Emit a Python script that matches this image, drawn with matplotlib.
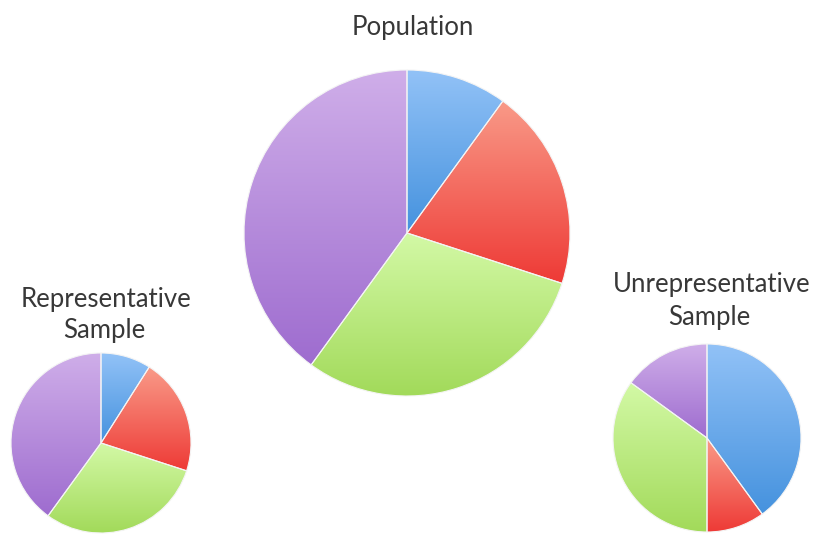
"""Population vs representative / unrepresentative sample pies."""

import matplotlib

matplotlib.use("Agg")
import matplotlib.pyplot as plt  # noqa: E402
import numpy as np
from matplotlib.colors import LinearSegmentedColormap

W, H = 817, 534

groups = ["Blue", "Red", "Green", "Purple"]
population = [10, 20, 30, 40]
representative = [9, 21, 30, 40]
unrepresentative = [40, 10, 35, 15]

# light (top) -> dark (bottom) for each slice
GRAD = [
    ("#92C2F7", "#4592DE"),
    ("#F99A88", "#EE3A36"),
    ("#D3F9A6", "#A2DA5A"),
    ("#CFAEE9", "#9E6CCF"),
]
INK = "#383838"


def _gradient_pie(ax, values, center, radius):
    wedges, _ = ax.pie(
        values,
        center=center,
        radius=radius,
        startangle=90,
        counterclock=False,
        wedgeprops=dict(linewidth=0.8, edgecolor="#F4F4F4"),
        frame=True,
    )
    ramp = np.linspace(0, 1, 256).reshape(-1, 1)
    for w, (top, bottom) in zip(wedges, GRAD):
        ext = w.get_path().get_extents(w.get_patch_transform())
        cmap = LinearSegmentedColormap.from_list("g", [top, bottom])
        w.set_facecolor("none")
        im = ax.imshow(
            ramp,
            cmap=cmap,
            extent=(ext.x0, ext.x1, ext.y0, ext.y1),
            origin="upper",
            aspect="auto",
            interpolation="bicubic",
            zorder=w.get_zorder() - 0.1,
        )
        im.set_clip_path(w)
    return wedges


fig = plt.figure(figsize=(W / 100, H / 100), dpi=100)
ax = fig.add_axes([0, 0, 1, 1])

_gradient_pie(ax, population, (407, H - 233), 163)
_gradient_pie(ax, representative, (101, H - 443), 90)
_gradient_pie(ax, unrepresentative, (707, H - 438), 94)

ax.set_xlim(0, W)
ax.set_ylim(0, H)
ax.set_aspect("equal")
ax.axis("off")

font = dict(family=["Lato", "DejaVu Sans"], fontsize=18.5, color=INK,
            ha="center", va="baseline")
ax.text(413, H - 35, "Population", **font)
ax.text(106, H - 307, "Representative", **font)
ax.text(104, H - 338, "Sample", **font)
ax.text(712, H - 292, "Unrepresentative", **font)
ax.text(709, H - 325, "Sample", **font)

fig.savefig("out.png", dpi=100, facecolor="white")
